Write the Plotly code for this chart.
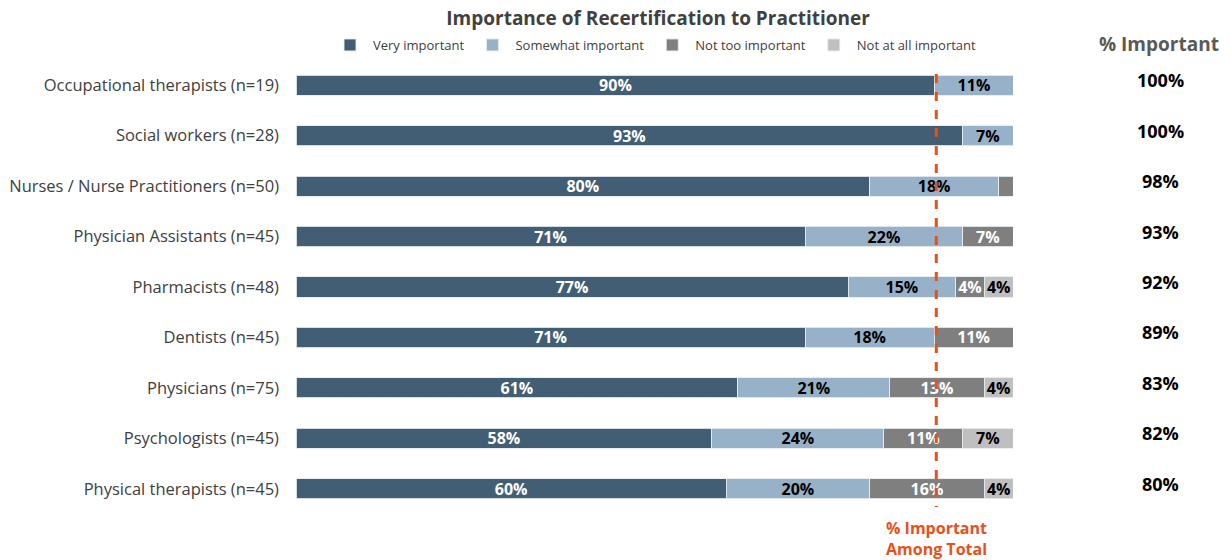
import plotly.graph_objects as go

categories = [
    "Occupational therapists (n=19)",
    "Social workers (n=28)",
    "Nurses / Nurse Practitioners (n=50)",
    "Physician Assistants (n=45)",
    "Pharmacists (n=48)",
    "Dentists (n=45)",
    "Physicians (n=75)",
    "Psychologists (n=45)",
    "Physical therapists (n=45)",
]
very_important = [90, 93, 80, 71, 77, 71, 61, 58, 60]
somewhat_important = [11, 7, 18, 22, 15, 18, 21, 24, 20]
not_too_important = [0, 0, 2, 7, 4, 11, 13, 11, 16]
not_at_all_important = [0, 0, 0, 0, 4, 0, 4, 7, 4]
pct_important = [100, 100, 98, 93, 92, 89, 83, 82, 80]
important_among_total = 89.3

series = [
    ("Very important", very_important, "#425E74", "white"),
    ("Somewhat important", somewhat_important, "#97B2C8", "black"),
    ("Not too important", not_too_important, "#7F7F7F", "white"),
    ("Not at all important", not_at_all_important, "#BFBFBF", "black"),
]

FONT = "Open Sans"
fig = go.Figure()
for name, vals, color, tcolor in series:
    fig.add_trace(go.Bar(
        y=categories, x=vals, name=name, orientation="h",
        marker=dict(color=color, line=dict(color="rgba(230,235,240,0.9)", width=1)),
        text=[f"{v}%" if v >= 3 else "" for v in vals],
        textposition="inside", insidetextanchor="middle", constraintext="none",
        textfont=dict(family=FONT, size=16, color=tcolor, weight="bold"),
        width=0.4,
    ))

fig.add_shape(type="line", xref="x", yref="y", x0=important_among_total, x1=important_among_total,
              y0=-0.22, y1=8.36, line=dict(color="#E8501B", width=3, dash="dash"), layer="above")

fig.add_annotation(x=important_among_total, xref="x", y=0, yref="paper", yshift=-1,
                   xanchor="center", yanchor="top",
                   text="% Important<br>Among Total", showarrow=False,
                   font=dict(family=FONT, size=16, color="#E8501B", weight="bold"))

fig.add_annotation(x=1.204, xref="paper", y=1.035, yref="paper", xanchor="center", yanchor="middle",
                   showarrow=False, text="% Important",
                   font=dict(family=FONT, size=19, color="#595959", weight="bold"))

for cat, v in zip(categories, pct_important):
    fig.add_annotation(x=1.206, xref="paper", y=cat, yref="y", yshift=5, showarrow=False,
                       xanchor="center",
                       text=f"{v}%", font=dict(family=FONT, size=18, color="black", weight="bold"))

fig.update_layout(
    width=1222, height=552,
    barmode="stack", barnorm="percent",
    paper_bgcolor="white", plot_bgcolor="white",
    margin=dict(l=288, r=217, t=52, b=46, autoexpand=False),
    title=dict(text="Importance of Recertification to Practitioner", x=0.505, xref="paper",
               y=0.981, yanchor="middle",
               font=dict(family=FONT, size=19, color="#404040", weight="bold")),
    legend=dict(orientation="h", x=0.5, xanchor="center", y=1.033, yanchor="middle",
                font=dict(family=FONT, size=13, color="#404040"), traceorder="normal",
                itemwidth=36, bgcolor="rgba(0,0,0,0)"),
    showlegend=True,
    xaxis=dict(range=[0, 100], visible=False, fixedrange=True),
    yaxis=dict(autorange="reversed", showgrid=False, showline=False, ticks="",
               ticklabelstandoff=16,
               tickfont=dict(family=FONT, size=16.5, color="#404040")),
    font=dict(family=FONT),
)

fig.write_html("out.html")
